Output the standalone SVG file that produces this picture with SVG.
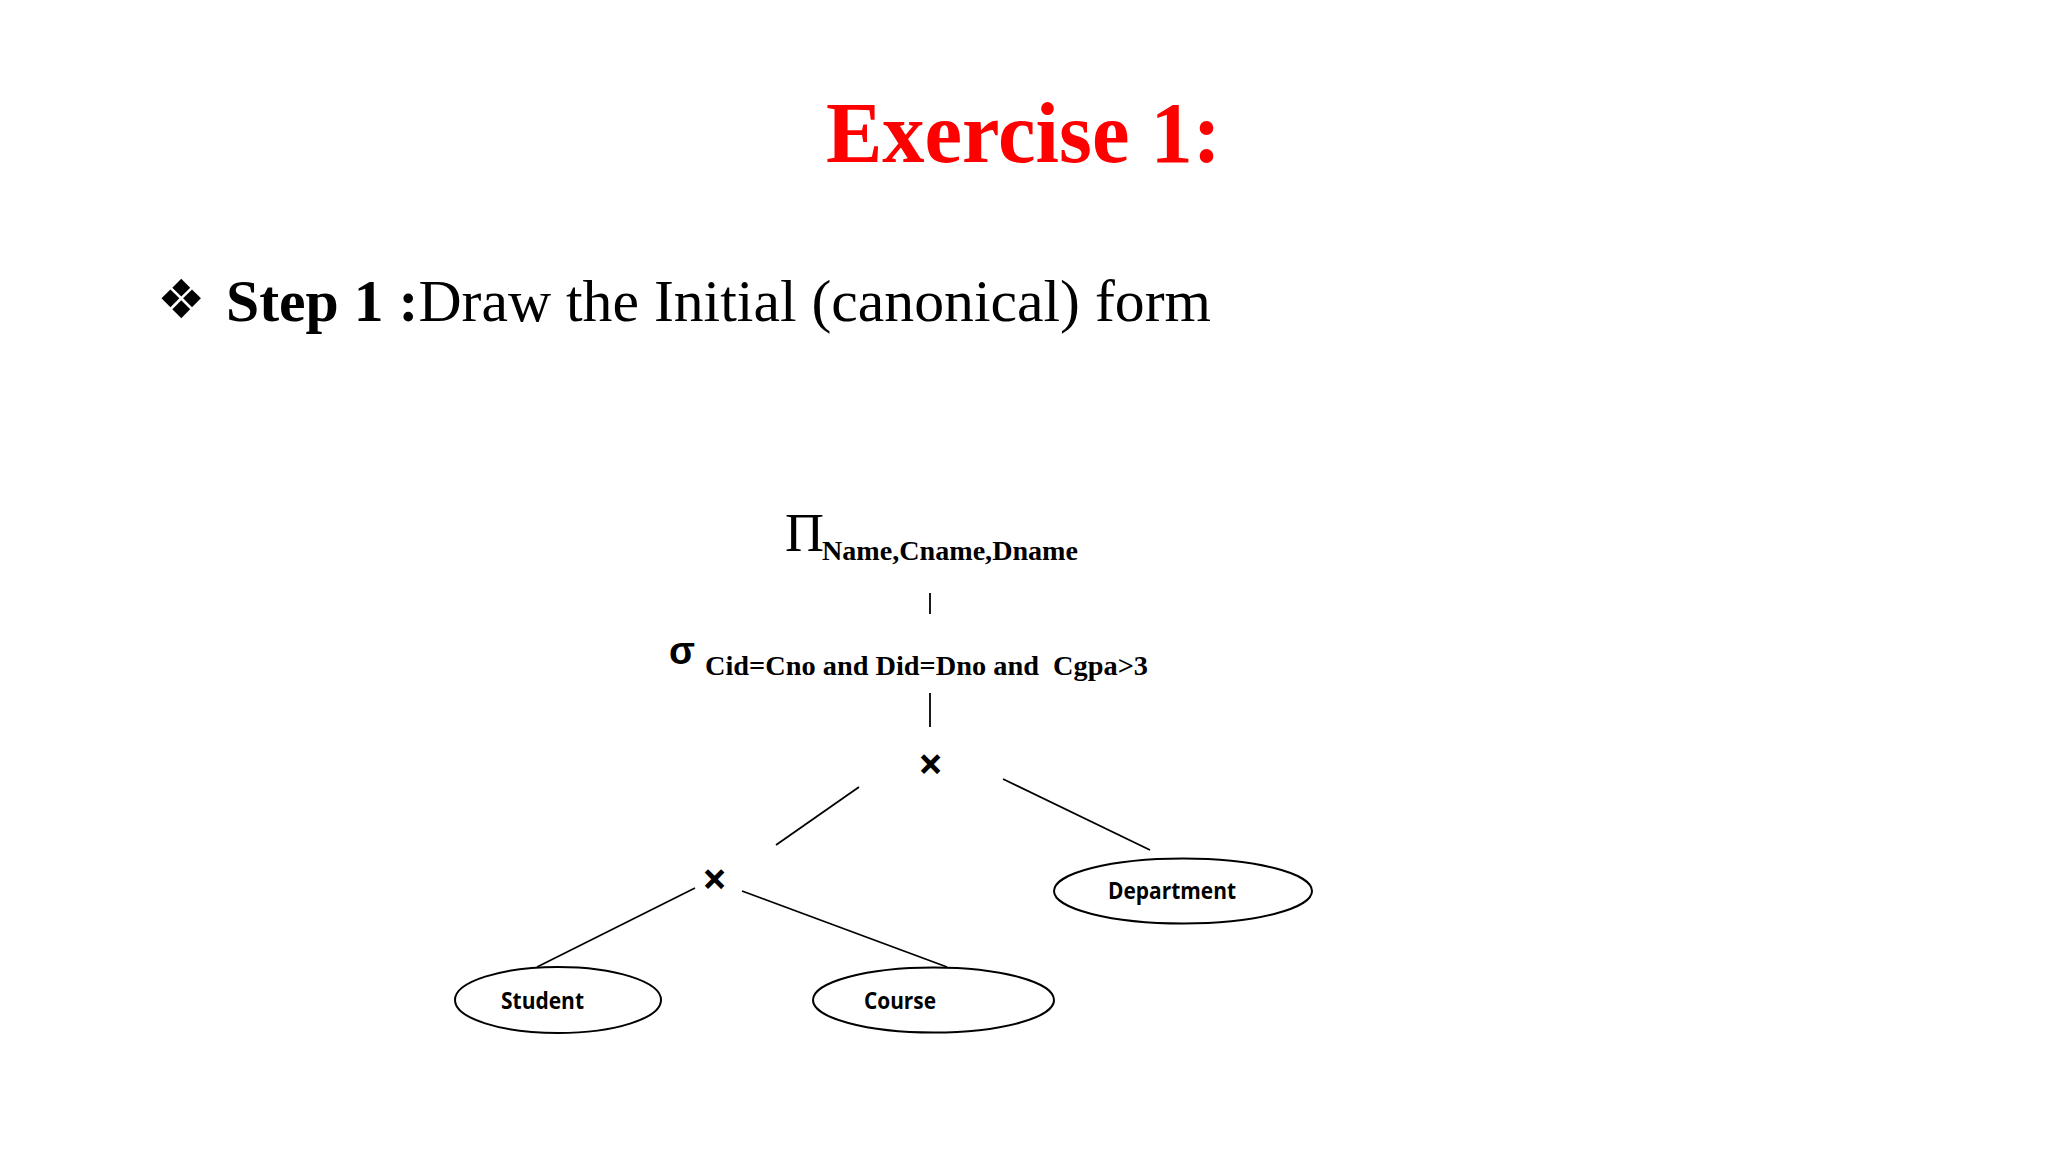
<svg xmlns="http://www.w3.org/2000/svg" width="2048" height="1152" viewBox="0 0 2048 1152">
<style>
.serif{font-family:"Liberation Serif","Times New Roman",serif}
.bold{font-weight:bold}
.lbl{font-family:"Open Sans","Noto Sans",sans-serif;font-weight:bold;font-size:24px;fill:#000}
.op{font-family:"Open Sans","DejaVu Sans",sans-serif;font-weight:bold;font-size:44px;fill:#000;text-anchor:middle}
.node{fill:#fff;stroke:#000;stroke-width:2}
.edge{stroke:#000;stroke-width:1.8;fill:none}
</style>
<rect width="2048" height="1152" fill="#fff"/>
<text id="title" class="serif bold" x="826" y="162" font-size="86" fill="#ff0000" textLength="395" lengthAdjust="spacingAndGlyphs">Exercise 1:</text>
<g id="step">
<text x="157" y="318" font-family="DejaVu Sans,sans-serif" font-size="54">❖</text>
<text class="serif" x="226" y="321" font-size="60" xml:space="preserve" textLength="985" lengthAdjust="spacingAndGlyphs"><tspan font-weight="bold">Step 1 :</tspan>Draw the Initial (canonical) form</text>
</g>
<g id="projection">
<text class="serif" x="785" y="551" font-size="54">Π</text>
<text class="serif bold" x="822" y="560" font-size="28" textLength="256" lengthAdjust="spacingAndGlyphs">Name,Cname,Dname</text>
</g>
<g id="selection">
<text x="669" y="664" font-family="Liberation Sans,Arial,sans-serif" font-size="38" font-weight="bold">σ</text>
<text class="serif bold" x="705" y="675" font-size="28" xml:space="preserve" textLength="443" lengthAdjust="spacingAndGlyphs">Cid=Cno and Did=Dno and  Cgpa&gt;3</text>
</g>
<g id="cross1"><text class="op" x="930.5" y="780">×</text></g>
<g id="cross2"><text class="op" x="714.5" y="895">×</text></g>
<g id="student">
<ellipse class="node" cx="558" cy="1000" rx="103" ry="33"/>
<text class="lbl" x="501" y="1009" textLength="83" lengthAdjust="spacingAndGlyphs">Student</text>
</g>
<g id="course">
<ellipse class="node" cx="933.5" cy="1000" rx="120.5" ry="32.5"/>
<text class="lbl" x="864" y="1009" textLength="72" lengthAdjust="spacingAndGlyphs">Course</text>
</g>
<g id="department">
<ellipse class="node" cx="1183" cy="891" rx="129" ry="32.5"/>
<text class="lbl" x="1108" y="899" textLength="128" lengthAdjust="spacingAndGlyphs">Department</text>
</g>
<g id="connectors">
<line class="edge" x1="930" y1="593" x2="930" y2="614"/>
<line class="edge" x1="930" y1="693" x2="930" y2="727"/>
<line class="edge" x1="859" y1="787" x2="776" y2="845"/>
<line class="edge" x1="1003" y1="779" x2="1150" y2="850"/>
<line class="edge" x1="695" y1="888" x2="537" y2="967"/>
<line class="edge" x1="742" y1="891" x2="947" y2="967"/>
</g>
</svg>
